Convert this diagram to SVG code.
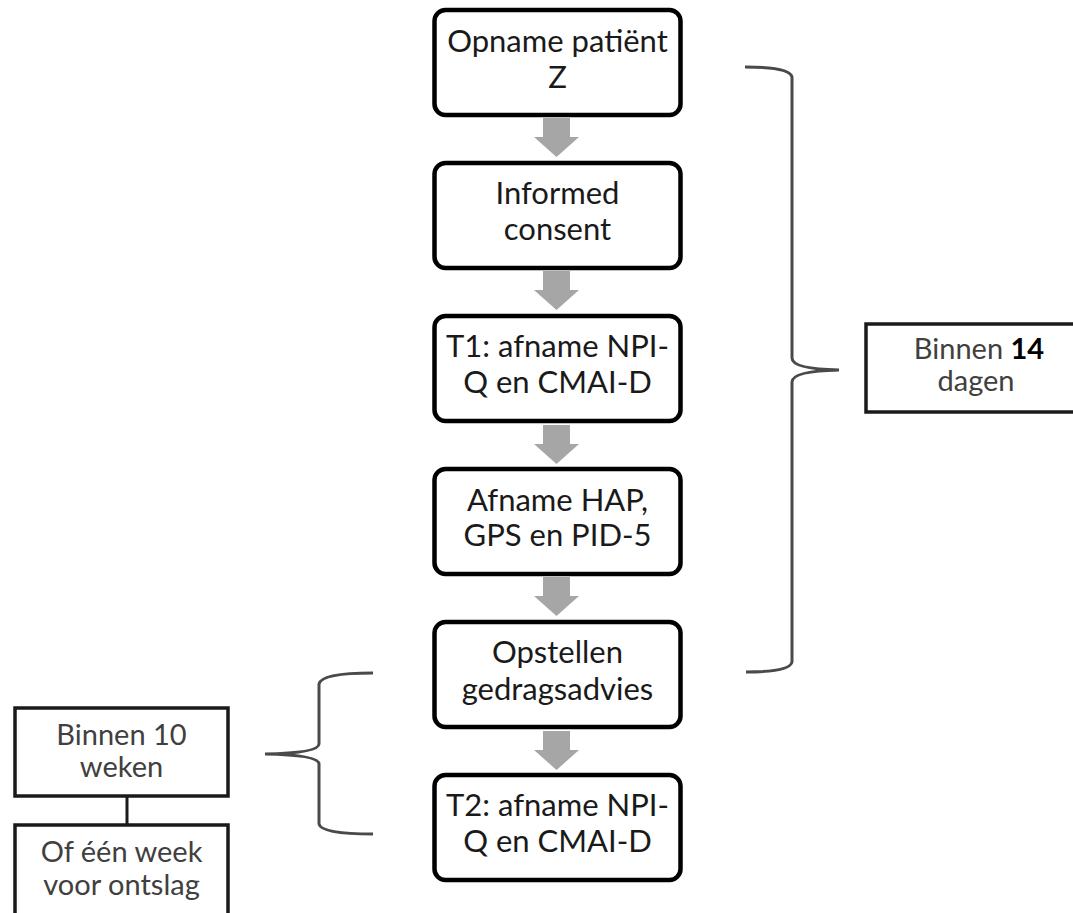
<svg xmlns="http://www.w3.org/2000/svg" width="1073" height="913" viewBox="0 0 1073 913">
<style>
.box{fill:#fff;stroke:#000;stroke-width:4.5}
.side{fill:#fff;stroke:#1a1a1a;stroke-width:3.5}
.t{font-family:Lato,"Open Sans",sans-serif;font-size:31px;fill:#1a1a1a;text-anchor:middle}
.s{font-family:Lato,"Open Sans",sans-serif;font-size:29px;fill:#404040;text-anchor:middle}
.arr{fill:#a6a6a6}
.brace{fill:none;stroke:#4a4a4a;stroke-width:3}
</style>
<defs>
<path id="arrow" d="M543,0 L570,0 L570,19 L579,19 L556.5,39 L534,19 L543,19 Z"/>
</defs>
<rect width="1073" height="913" fill="#fff"/>
<g id="connectors">
<use href="#arrow" class="arr" transform="translate(0,118)"/>
<use href="#arrow" class="arr" transform="translate(0,271)"/>
<use href="#arrow" class="arr" transform="translate(0,425)"/>
<use href="#arrow" class="arr" transform="translate(0,577)"/>
<use href="#arrow" class="arr" transform="translate(0,731)"/>
<path class="brace" d="M745,67 Q790,67 792,77 L792,358 Q792,369 839,370 Q792,371 792,382 L792,662 Q790,672 746,672"/>
<path class="brace" d="M373,673 Q321,673 319,684 L319,744 Q319,753 265,754 Q319,755 319,764 L319,824 Q321,834 373,834"/>
<line x1="127" y1="796" x2="127" y2="825" stroke="#1a1a1a" stroke-width="3"/>
</g>
<g id="n1">
<rect class="box" x="434.5" y="10" width="246" height="105" rx="11"/>
<text class="t" x="557.5" y="52">Opname patiënt</text>
<text class="t" x="557.5" y="88">Z</text>
</g>
<g id="n2">
<rect class="box" x="434.5" y="163" width="246" height="105" rx="11"/>
<text class="t" x="557.5" y="204">Informed</text>
<text class="t" x="557.5" y="240">consent</text>
</g>
<g id="n3">
<rect class="box" x="434.5" y="316" width="246" height="105" rx="11"/>
<text class="t" x="557.5" y="357">T1: afname NPI-</text>
<text class="t" x="557.5" y="393">Q en CMAI-D</text>
</g>
<g id="n4">
<rect class="box" x="434.5" y="469" width="246" height="105" rx="11"/>
<text class="t" x="557.5" y="511">Afname HAP,</text>
<text class="t" x="557.5" y="546">GPS en PID-5</text>
</g>
<g id="n5">
<rect class="box" x="434.5" y="622" width="246" height="105" rx="11"/>
<text class="t" x="557.5" y="663">Opstellen</text>
<text class="t" x="557.5" y="700">gedragsadvies</text>
</g>
<g id="n6">
<rect class="box" x="434.5" y="775" width="246" height="105" rx="11"/>
<text class="t" x="557.5" y="816">T2: afname NPI-</text>
<text class="t" x="557.5" y="852">Q en CMAI-D</text>
</g>
<g id="n7">
<rect class="side" x="866" y="324" width="230" height="88"/>
<text class="s" x="979" y="359">Binnen <tspan font-weight="bold" fill="#000">14</tspan></text>
<text class="s" x="976" y="391">dagen</text>
</g>
<g id="n8">
<rect class="side" x="15" y="708" width="213" height="88"/>
<text class="s" x="121.5" y="745">Binnen 10</text>
<text class="s" x="121.5" y="777">weken</text>
</g>
<g id="n9">
<rect class="side" x="15" y="825" width="213" height="100"/>
<text class="s" x="121.5" y="862">Of één week</text>
<text class="s" x="121.5" y="895">voor ontslag</text>
</g>
</svg>
